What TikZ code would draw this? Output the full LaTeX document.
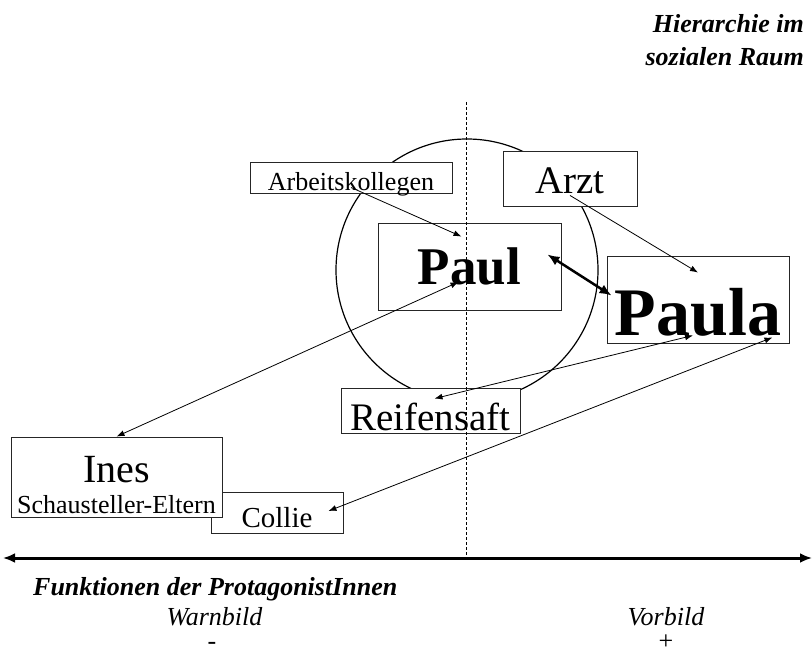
\documentclass[tikz,border=0pt]{standalone}
\usepackage{fontspec}
\setmainfont{Liberation Serif}
\usetikzlibrary{arrows.meta}
\newcommand{\fsz}[1]{\fontsize{#1}{#1}\selectfont}

\begin{document}
\begin{tikzpicture}[x=1pt, y=-1pt,
  every node/.style = {inner sep=0pt},
  box/.style = {draw=black!85, line width=0.9pt, fill=white, text depth=0pt},
  link/.style = {line width=0.8pt, {Latex[length=8pt,width=6pt]}-{Latex[length=8pt,width=6pt]}},
  oneway/.style = {line width=0.8pt, -{Latex[length=8pt,width=6pt]}},
  pole/.style = {anchor=base, font=\itshape\fsz{26}}]
\useasboundingbox (0,0) rectangle (812,655);

\draw[line width=1.2pt] (467,270) circle (131pt);

\node[box, minimum width=132pt, minimum height=41pt, text height=29pt, font=\fsz{29}] (collie) at (277,512.5) {Collie};
\node[box, minimum width=211pt, minimum height=80pt, text height=10pt, font=\fsz{40}] (ines) at (116.5,477) {Ines};
\node[anchor=base, font=\fsz{26}] (eltern) at ([yshift=4pt]ines.south) {Schausteller-Eltern};
\node[box, minimum width=202pt, minimum height=31pt, text height=27pt, font=\fsz{26}] (arbeit) at (351,177.5) {Arbeitskollegen};
\node[box, minimum width=134pt, minimum height=55pt, text height=30pt, font=\fsz{39}] (arzt) at (570,178.5) {Arzt};
\node[box, minimum width=183pt, minimum height=87pt, text height=37pt, font=\bfseries\fsz{53}] (paul) at (469.5,266.5) {Paul};
\node[box, minimum width=182pt, minimum height=87pt, text height=71pt, font=\bfseries\fsz{68}] (paula) at (698,299.5) {Paula};
\node[box, minimum width=179pt, minimum height=45pt, text height=39pt, font=\fsz{39}] (reifen) at (430.5,410.5) {Reifensaft};

% Mittellinie
\coordinate (mtop) at (466.5,102);
\coordinate (mbot) at (466.5,558);
\draw[line width=0.8pt, dash pattern=on 3pt off 2pt] (mtop) -- (mbot);

\draw[oneway] ([yshift=-10pt]arbeit.center) -- ([xshift=-8pt,yshift=-14pt]paul.north);
\draw[oneway] ([yshift=11pt]arzt.south) -- ([yshift=-17pt]paula.north);
\draw[line width=2.5pt, {Latex[length=12pt,width=10pt]}-{Latex[length=12pt,width=10pt]}] ([xshift=-14pt,yshift=12pt]paul.east) -- ([xshift=5pt,yshift=4pt]paula.west);
\draw[link] (ines.north) -- ([xshift=-11pt,yshift=-15.5pt]paul.center);
\draw[link] ([xshift=4pt,yshift=-11pt]reifen.north) -- ([xshift=-5pt,yshift=8pt]paula.south);
\draw[link] ([xshift=-15pt,yshift=1.5pt]collie.east) -- ([xshift=-17pt,yshift=6pt]paula.south east);

% Achse
\coordinate (axl) at (3,558);
\coordinate (axr) at (812,558);
\draw[line width=3pt, {Latex[length=12pt,width=10pt]}-{Latex[length=12pt,width=10pt]}] (axl) -- (axr);

\node[anchor=north east, align=right, font=\bfseries\itshape\fontsize{26}{33}\selectfont] (hierarchie) at (804,14) {Hierarchie im\\sozialen Raum};
\node[anchor=base west, font=\bfseries\itshape\fsz{26}] (funktion) at (33,595) {Funktionen der ProtagonistInnen};
\node[pole] (warn) at (214.5,625) {Warnbild};
\node[pole] (vor) at (666,625) {Vorbild};
\node[anchor=base, font=\fsz{26}] (minus) at (212,649) {-};
\node[anchor=base, font=\fsz{26}] (plus) at (666,649) {+};
\end{tikzpicture}
\end{document}
